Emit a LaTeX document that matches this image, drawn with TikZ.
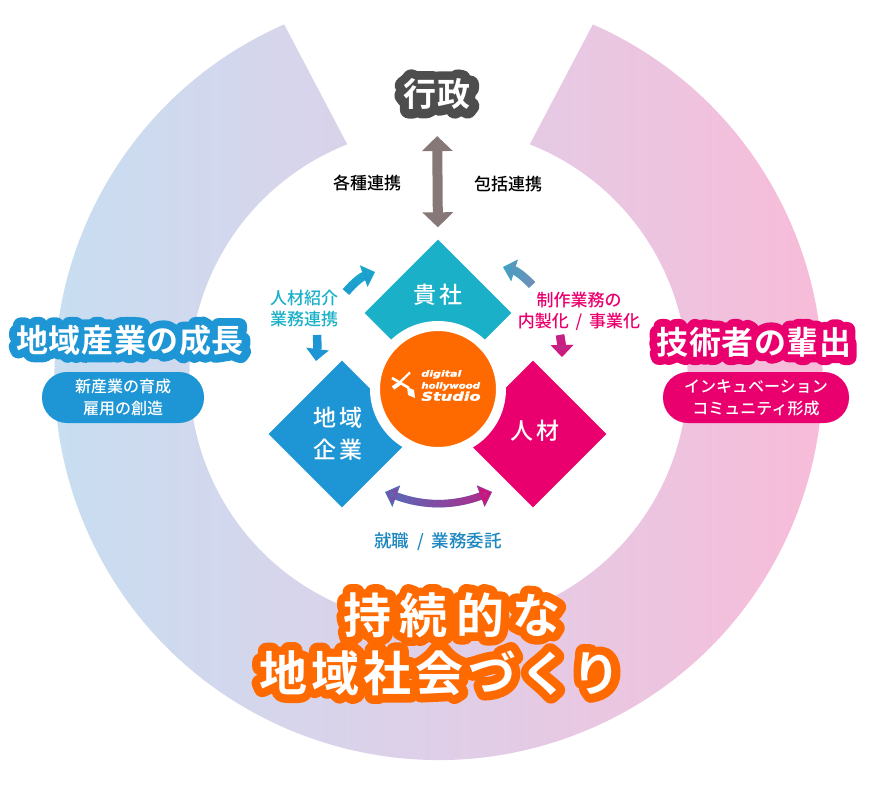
\documentclass[tikz,border=0pt]{standalone}
\usepackage{graphicx}
\usepackage{fontspec}
\setmainfont{Noto Sans CJK JP Medium}
\newfontfamily\headfont[LetterSpace=2]{Noto Sans CJK JP Bold}
\newfontfamily\headhalo[LetterSpace=2,FakeBold=50]{Noto Sans CJK JP Bold}
\newfontfamily\bigfont[LetterSpace=6]{Noto Sans CJK JP Bold}
\newfontfamily\bighalo[LetterSpace=6,FakeBold=35]{Noto Sans CJK JP Bold}
\newfontfamily\boxfont[LetterSpace=12]{Noto Sans CJK JP Medium}
\newfontfamily\logofont[FakeBold=2]{DejaVu Sans Bold Oblique}
\usetikzlibrary{shapes.geometric,arrows.meta,fadings}

\definecolor{teal}{HTML}{1AB0C8}
\definecolor{blue}{HTML}{1E95D4}
\definecolor{pink}{HTML}{E9006E}
\definecolor{orng}{HTML}{FF6A00}
\definecolor{grey}{HTML}{4D4D4D}
\definecolor{stem}{HTML}{857876}
\definecolor{plum}{HTML}{A67BB0}
\definecolor{wine}{HTML}{B5338F}
\definecolor{ringl}{HTML}{C5E0F2}
\definecolor{ringm}{HTML}{DFCFE8}
\definecolor{ringr}{HTML}{FBB9D6}

\newcommand{\halotext}[3]{{\color{#1}\rlap{#2{}#3}}{\color{white}#3}}
\newcommand{\twotone}[4]{%
    \draw[link,#1] #4;
    \draw[link,#2,path fading=#3] #4;
}

\tikzset{
    stone/.style={shape=diamond, aspect=1, inner sep=0pt, minimum size=147pt, text=white},
    capsule/.style={rounded corners=25pt, fill=blue, text=white, minimum height=51pt, align=center, inner sep=0pt,
        font=\fontsize{16}{22}\selectfont},
    caption/.style={align=center, font=\fontsize{17}{21}\selectfont},
    link/.style={line width=8.5pt, -{Triangle[width=22pt,length=12pt]}},
    twohead/.style={line width=7.5pt, {Triangle[width=22pt,length=12pt]}-{Triangle[width=22pt,length=12pt]}},
}

\begin{document}
\begin{tikzpicture}[x=1pt,y=1pt,line join=round]
    \useasboundingbox (0,0) rectangle (872,-788);
    % ring
    \shade[left color=ringl, right color=ringr, middle color=ringm, shift={(438.5,-376)}]
        (113.7:384) arc[start angle=113.7, end angle=426.3, radius=384]
        -- (68.5:249) arc[start angle=68.5, end angle=-248.5, radius=249] -- cycle;
    % diamonds
    \node[stone, fill=teal, label={[text=white,yshift=18pt,font=\boxfont\fontsize{23}{23}\selectfont]center:貴社}] (kisha) at (438,-313) {};
    \node[stone, fill=blue, label={[text=white,xshift=-4pt,font=\boxfont\fontsize{23}{32}\selectfont,align=center]center:地域\\企業}] (chiiki) at (342,-434) {};
    \node[stone, fill=pink, label={[text=white,xshift=2pt,yshift=3pt,font=\boxfont\fontsize{23}{23}\selectfont]center:人材}] (jinzai) at (533,-434) {};
    \node[circle, fill=orng, draw=white, line width=10pt, minimum size=126pt, inner sep=0pt] (studio) at (438,-389) {};
    % logo
    \node[align=left, text=white, inner sep=0pt, font=\logofont] (logotext) at (451,-385.5)
        {\fontsize{8.5}{8}\selectfont\scalebox{1.3}[1]{digital}\\\fontsize{8.5}{8}\selectfont\scalebox{1.2}[1]{hollywood}\\\fontsize{12}{9}\selectfont\scalebox{1.35}[1]{Studio}};
    \draw[white, line width=2.2pt] (410,-372.5) -- (397,-385);
    \draw[white, line width=2.6pt] (392,-378) -- (409,-388);
    \draw[white, line width=4pt] (393,-388) -- (400,-383);
    \fill[white] (407,-387) -- (414,-390) -- (415,-398) -- (408,-395) -- cycle;
    % titles
    \node (gyosei) at (437,-94) {\fontsize{33}{33}\bigfont\selectfont\halotext{grey}{\bighalo\addfontfeature{FakeBold=55}}{行政}};
    \node (sangyo) at (130,-340) {\fontsize{32}{32}\headfont\selectfont\halotext{blue}{\headhalo}{地域産業の成長}};
    \node (hai) at (754,-342) {\fontsize{32}{32}\headfont\selectfont\halotext{pink}{\headhalo}{技術者の輩出}};
    \node (jizoku) at (452,-615) {\fontsize{48}{48}\bigfont\addfontfeature{LetterSpace=17}\selectfont\halotext{orng}{\bighalo\addfontfeature{LetterSpace=17}}{持続的な}};
    \node (shakai) at (440,-673) {\fontsize{48}{48}\bigfont\addfontfeature{LetterSpace=9}\selectfont\halotext{orng}{\bighalo\addfontfeature{LetterSpace=9}}{地域社会づくり}};
    % capsules
    \node[capsule, minimum width=162pt] (ikusei) at (123,-397.5) {新産業の育成\\雇用の創造};
    \node[capsule, minimum width=186pt, fill=pink] (incub) at (756,-397.5) {インキュベーション\\コミュニティ形成};
    % captions
    \node[caption] (kakushu) at (367,-183) {各種連携};
    \node[caption] (hokatsu) at (508,-184) {包括連携};
    \node[caption, text=teal] (jinzaiL) at (304,-309) {人材紹介\\業務連携};
    \node[caption, text=pink] (seisaku) at (579,-311) {制作業務の\\内製化\kern3pt{} / \kern3pt事業化};
    \node[caption, text=blue!90!black, font=\fontsize{17.5}{21}\selectfont] (shushoku) at (438,-541.5) {就職\kern4pt{} / \kern4pt業務委託};
    % connectors
    \draw[line width=10pt, stem, {Triangle[width=30pt,length=15pt]}-{Triangle[width=30pt,length=15pt]},
        shorten <=23pt, shorten >=12pt] (gyosei.south) -- (kisha.north);
    \coordinate (ula) at (346,-292); \coordinate (ulb) at (375,-272);
    \coordinate (lla) at (317,-335); \coordinate (llb) at (316,-361);
    \coordinate (ura) at (532,-285); \coordinate (urb) at (503,-267);
    \coordinate (lra) at (560,-335); \coordinate (lrb) at (562,-357);
    \coordinate (boa) at (385,-492); \coordinate (bob) at (492,-492);
    \twotone{teal}{blue}{north}{(330,-255) (390,-305) (ula) to[bend left=15] (ulb)}
    \draw[link,blue] (lla) to[bend left=5] (llb);
    \twotone{teal}{plum}{west}{(496,-255) (551,-300) (ura) to[bend right=15] (urb)}
    \twotone{pink}{wine}{south}{(540,-324) (582,-368) (lra) to[bend left=5] (lrb)}
    \twotone{blue,twohead}{pink,twohead}{west}{(331,-470) (546,-520) (boa) to[bend right=20] (bob)}
\end{tikzpicture}
\end{document}
